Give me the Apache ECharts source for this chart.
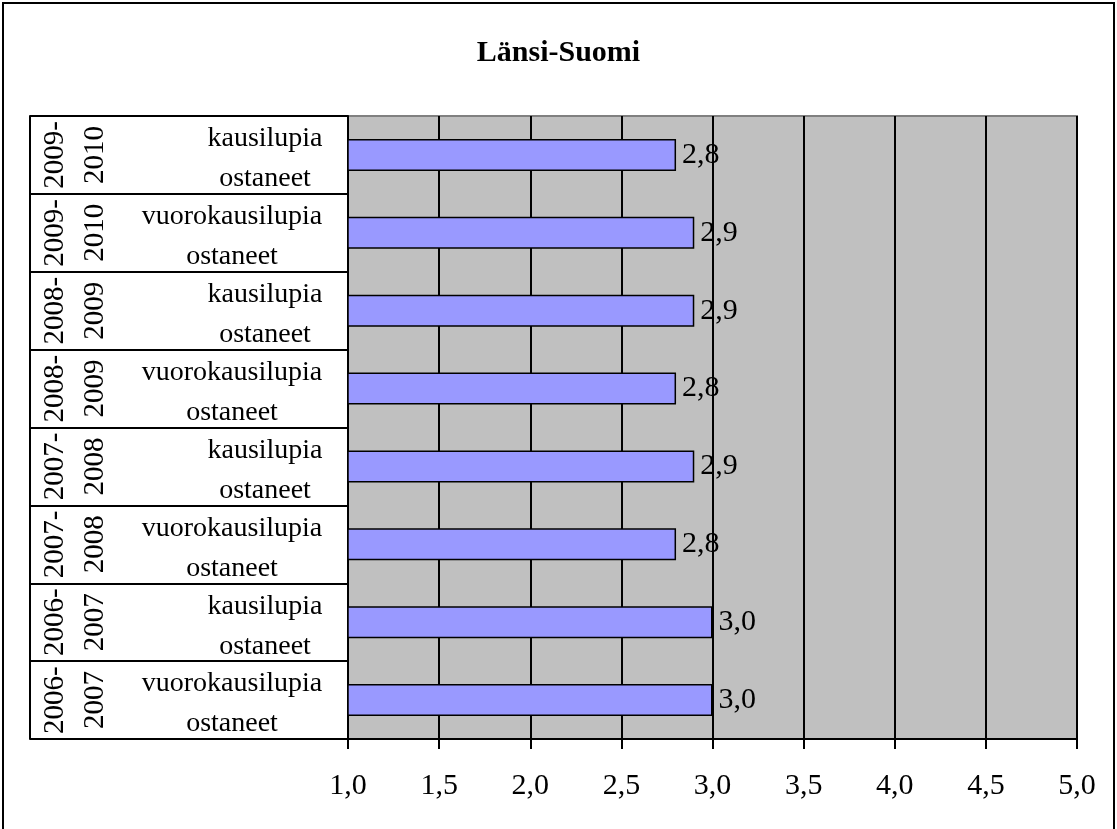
<!DOCTYPE html>
<html>
<head>
<meta charset="utf-8">
<script src="https://cdn.jsdelivr.net/npm/echarts@6/dist/echarts.min.js"></script>
<style>
html,body{margin:0;padding:0;background:#fff;}
#wrap{position:relative;width:1117px;height:829px;overflow:hidden;}
#chart{position:absolute;left:0;top:0;width:1117px;height:829px;}
#frame{position:absolute;left:2px;top:2px;width:1109px;height:900px;border:2px solid #000;pointer-events:none;}
</style>
</head>
<body>
<div id="wrap"><div id="chart"></div><div id="frame"></div></div>
<script>
// Data (top to bottom)
const periods = ['2009-2010','2009-2010','2008-2009','2008-2009','2007-2008','2007-2008','2006-2007','2006-2007'];
const groups = ['kausilupia ostaneet','vuorokausilupia ostaneet','kausilupia ostaneet','vuorokausilupia ostaneet','kausilupia ostaneet','vuorokausilupia ostaneet','kausilupia ostaneet','vuorokausilupia ostaneet'];
const values = [2.8, 2.9, 2.9, 2.8, 2.9, 2.8, 3.0, 3.0];
const xTicks = {min: 1, max: 5, interval: 0.5};
const title = 'Länsi-Suomi';

const FONT = 'Liberation Serif';
const fmt = v => Number(v).toFixed(1).replace('.', ',');

const chart = echarts.init(document.getElementById('chart'));
chart.setOption({
  animation: false,
  textStyle: {fontFamily: FONT, color: '#000'},
  title: {
    text: title, left: 'center', top: 33,
    textStyle: {fontFamily: FONT, fontSize: 30, fontWeight: 'bold', color: '#000'}
  },
  grid: {
    left: 348, right: 40, top: 116, bottom: 90,
    show: true, backgroundColor: '#C0C0C0', borderColor: '#808080', borderWidth: 2
  },
  xAxis: {
    type: 'value', min: xTicks.min, max: xTicks.max, interval: xTicks.interval,
    axisLine: {show: true, lineStyle: {color: '#000', width: 2}},
    axisTick: {show: true, length: 10, lineStyle: {color: '#000', width: 2}},
    splitLine: {show: true, lineStyle: {color: '#000', width: 2}},
    axisLabel: {formatter: fmt, fontSize: 30, fontFamily: FONT, color: '#000', margin: 32}
  },
  yAxis: [
    {
      type: 'category', inverse: true, data: groups, position: 'left',
      axisLine: {show: true, lineStyle: {color: '#000', width: 2}},
      axisTick: {show: true, length: 318, interval: 0, lineStyle: {color: '#000', width: 2}},
      axisLabel: {
        interval: 0, margin: 26, align: 'right', padding: [8, 0, 0, 0],
        formatter: v => {
          const parts = v.split(' ');
          const s = parts[0].startsWith('vuoro') ? 'v' : 'k';
          return parts.map(p => '{' + s + '|' + p + '}').join('\n');
        },
        rich: {
          k: {width: 114, align: 'center', fontSize: 28, fontFamily: FONT, color: '#000', lineHeight: 40},
          v: {width: 180, align: 'center', fontSize: 28, fontFamily: FONT, color: '#000', lineHeight: 40}
        }
      }
    },
    {
      type: 'category', inverse: true, data: periods, position: 'left', offset: 318,
      axisLine: {show: true, lineStyle: {color: '#000', width: 2}},
      axisTick: {show: false},
      axisLabel: {
        interval: 0, inside: true, rotate: 90, margin: 5,
        fontSize: 29, fontFamily: FONT, color: '#000', lineHeight: 40,
        formatter: v => v.replace('-', '-\n')
      }
    }
  ],
  series: [{
    type: 'bar', data: values, yAxisIndex: 0, barWidth: '41%',
    itemStyle: {color: '#9999FF', borderColor: '#000', borderWidth: 1.5},
    label: {show: true, position: 'right', distance: 6, formatter: p => fmt(p.value),
      fontSize: 30, fontFamily: FONT, color: '#000'}
  }]
});
</script>
</body>
</html>
